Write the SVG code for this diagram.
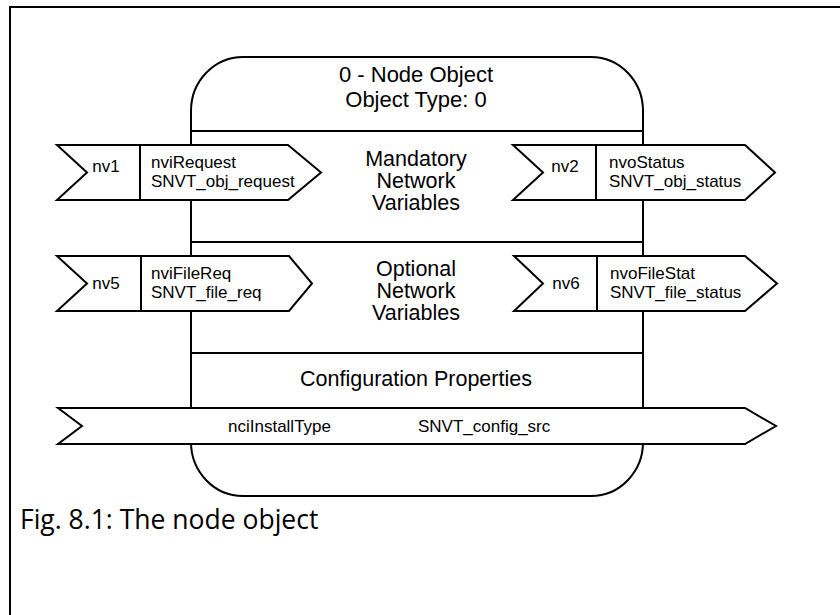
<svg xmlns="http://www.w3.org/2000/svg" width="840" height="615" viewBox="0 0 840 615">
<style>
.ln{fill:none;stroke:#000;stroke-width:2}
.sh{fill:#fff;stroke:#000;stroke-width:2;stroke-linejoin:miter}
.t{font-family:"Liberation Sans",Arial,sans-serif;fill:#000}
.s{font-size:17px}
.m{font-size:21.5px;text-anchor:middle}
.h{font-size:22px;text-anchor:middle}
.c{font-family:"Open Sans","Noto Sans",sans-serif;font-size:26.5px;fill:#000}
</style>
<rect width="840" height="615" fill="#fff"/>
<path class="ln" d="M10,615 V7 H840"/>
<g id="node-object">
<rect class="sh" x="191" y="57" width="452" height="439" rx="52" ry="54"/>
<text class="t h" x="416" y="82">0 - Node Object</text>
<text class="t h" x="416" y="107">Object Type: 0</text>
<path class="ln" d="M191,131 H643 M191,242 H643 M191,353 H643"/>
<text class="t m" x="416" y="166">Mandatory</text>
<text class="t m" x="416" y="188">Network</text>
<text class="t m" x="416" y="210">Variables</text>
<text class="t m" x="416" y="276">Optional</text>
<text class="t m" x="416" y="298">Network</text>
<text class="t m" x="416" y="320">Variables</text>
<text class="t m" x="416" y="386">Configuration Properties</text>
</g>
<g id="nv1">
<path class="sh" d="M57,145 H288 L321,172.5 L288,200 H57 L87,172.5 Z"/>
<path class="ln" d="M140,145 V200"/>
<text class="t s" x="106" y="172" text-anchor="middle">nv1</text>
<text class="t s" x="151" y="168">nviRequest</text>
<text class="t s" x="151" y="187">SNVT_obj_request</text>
</g>
<g id="nv2">
<path class="sh" d="M513,145 H745 L775,172.5 L745,200 H513 L543,172.5 Z"/>
<path class="ln" d="M596,145 V200"/>
<text class="t s" x="565" y="172" text-anchor="middle">nv2</text>
<text class="t s" x="609" y="168">nvoStatus</text>
<text class="t s" x="609" y="187">SNVT_obj_status</text>
</g>
<g id="nv5">
<path class="sh" d="M57,256 H289 L312,283.5 L289,311 H57 L87,283.5 Z"/>
<path class="ln" d="M141,256 V311"/>
<text class="t s" x="106" y="289" text-anchor="middle">nv5</text>
<text class="t s" x="151" y="279">nviFileReq</text>
<text class="t s" x="151" y="298">SNVT_file_req</text>
</g>
<g id="nv6">
<path class="sh" d="M514,256 H745 L777,283.5 L745,311 H514 L543,283.5 Z"/>
<path class="ln" d="M597,256 V311"/>
<text class="t s" x="566" y="289" text-anchor="middle">nv6</text>
<text class="t s" x="610" y="279">nvoFileStat</text>
<text class="t s" x="610" y="298">SNVT_file_status</text>
</g>
<g id="nciInstallType">
<path class="sh" d="M58,408 H745 L776,426 L745,444 H58 L82,426 Z"/>
<text class="t s" x="228" y="432">nciInstallType</text>
<text class="t s" x="418" y="432">SNVT_config_src</text>
</g>
<g id="connectors"></g>
<text class="c" x="20" y="529">Fig. 8.1: The node object</text>
</svg>
